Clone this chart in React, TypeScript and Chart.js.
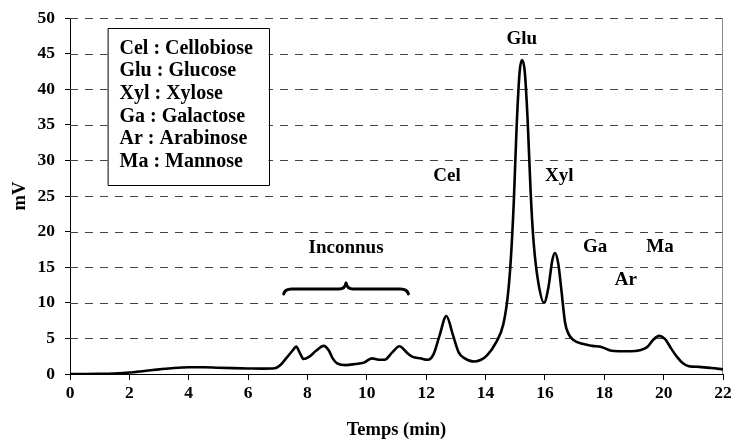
import React, { useEffect, useRef } from "react";
import { Chart, registerables } from "chart.js";

Chart.register(...registerables);

// Chromatogram: retention time (min) and detector signal (mV)
const timeMin: number[] = [
  0, 0.5, 1.0, 1.5, 2.0, 2.5, 3.0, 3.5, 4.0, 4.5, 5.0, 5.5, 6.0, 6.5, 6.9,
  7.1, 7.3, 7.5, 7.62, 7.75, 7.87, 8.05, 8.3, 8.55, 8.72, 8.85, 9.0, 9.3, 9.6,
  9.9, 10.17, 10.4, 10.6, 10.85, 11.1, 11.35, 11.55, 11.8, 12.05, 12.25, 12.45,
  12.68, 12.9, 13.1, 13.3, 13.6, 13.85, 14.05, 14.35, 14.6, 14.75, 14.85, 14.95,
  15.05, 15.15, 15.23, 15.32, 15.42, 15.52, 15.62, 15.78, 15.97, 16.12, 16.25,
  16.34, 16.45, 16.55, 16.68, 16.8, 16.95, 17.3, 17.6, 17.9, 18.2, 18.5, 18.9,
  19.2, 19.45, 19.65, 19.85, 20.05, 20.25, 20.45, 20.65, 20.85, 21.2, 21.6, 22.0,
];
const signalMv: number[] = [
  0, 0, 0.02, 0.08, 0.2, 0.42, 0.65, 0.85, 0.95, 0.95, 0.88, 0.82, 0.78, 0.75, 0.8,
  1.3, 2.3, 3.3, 3.85, 2.9, 2.1, 2.4, 3.3, 3.95, 3.3, 2.2, 1.5, 1.25, 1.4,
  1.6, 2.2, 2.0, 2.0, 3.0, 3.9, 3.0, 2.4, 2.2, 2.0, 2.8, 5.4,
  8.15, 5.5, 3.0, 2.2, 1.75, 2.0, 2.6, 4.4, 7.0, 11.0, 16.0, 24.0,
  35.0, 42.5, 44.1, 42.5, 35.5, 25.5, 18.5, 12.8, 10.0, 12.2, 16.0,
  17.0, 15.5, 12.0, 7.2, 5.6, 4.8, 4.2, 3.95, 3.8, 3.3, 3.2, 3.2,
  3.35, 3.8, 4.8, 5.35, 4.9, 3.6, 2.4, 1.5, 1.1, 1.0, 0.85, 0.65,
];

// Peak labels (text, time, mV)
const peakLabels: string[] = ["Glu", "Cel", "Xyl", "Ga", "Ma", "Ar", "Inconnus"];
const peakLabelTime: number[] = [15.22, 12.7, 16.48, 17.69, 19.88, 18.73, 9.3];
const peakLabelMv: number[] = [47.1, 27.85, 27.85, 17.86, 17.86, 13.22, 17.72];

// Brace over unknown peaks (time range, mV level)
const braceStart = 7.2;
const braceEnd = 11.4;
const braceMid = 9.3;
const braceLevel = 11.95;

// Legend lines
const legendLines: string[] = [
  "Cel : Cellobiose",
  "Glu : Glucose",
  "Xyl : Xylose",
  "Ga : Galactose",
  "Ar : Arabinose",
  "Ma : Mannose",
];

const xTitle = "Temps (min)";
const yTitle = "mV";

const FONT = "'Liberation Serif', 'Times New Roman', serif";

export default function App() {
  const canvasRef = useRef<HTMLCanvasElement | null>(null);

  useEffect(() => {
    const canvas = canvasRef.current;
    if (!canvas) return;

    const decor = {
      id: "decor",
      beforeDraw(chart: any) {
        const ctx = chart.ctx;
        ctx.save();
        ctx.fillStyle = "#ffffff";
        ctx.fillRect(0, 0, chart.width, chart.height);
        ctx.restore();
      },
      beforeDatasetsDraw(chart: any) {
        const ctx = chart.ctx;
        const { left, right, top, bottom } = chart.chartArea;
        const ys = chart.scales.y;
        ctx.save();
        ctx.strokeStyle = "#444";
        ctx.lineWidth = 1;
        ctx.setLineDash([8, 7]);
        ys.ticks.forEach((t: any) => {
          if (t.value === 0) return;
          const y = Math.round(ys.getPixelForValue(t.value)) + 0.5;
          ctx.beginPath();
          ctx.moveTo(left, y);
          ctx.lineTo(right, y);
          ctx.stroke();
        });
        ctx.setLineDash([]);
        ctx.strokeStyle = "#8a8a8a";
        ctx.beginPath();
        ctx.moveTo(Math.round(right) - 0.5, top);
        ctx.lineTo(Math.round(right) - 0.5, bottom);
        ctx.stroke();
        ctx.restore();
      },
      afterDatasetsDraw(chart: any) {
        const ctx = chart.ctx;
        const xs = chart.scales.x;
        const ys = chart.scales.y;
        const { left, top } = chart.chartArea;
        ctx.save();
        // peak labels
        ctx.fillStyle = "#000";
        ctx.font = `bold 19px ${FONT}`;
        ctx.textAlign = "center";
        ctx.textBaseline = "middle";
        peakLabels.forEach((lab, i) => {
          ctx.fillText(lab, xs.getPixelForValue(peakLabelTime[i]), ys.getPixelForValue(peakLabelMv[i]));
        });
        // brace
        const x0 = xs.getPixelForValue(braceStart);
        const x1 = xs.getPixelForValue(braceEnd);
        const xm = xs.getPixelForValue(braceMid);
        const yb = ys.getPixelForValue(braceLevel);
        ctx.strokeStyle = "#000";
        ctx.lineWidth = 3;
        ctx.lineCap = "round";
        ctx.lineJoin = "round";
        ctx.beginPath();
        ctx.moveTo(x0, yb + 5);
        ctx.quadraticCurveTo(x0 + 1, yb, x0 + 8, yb);
        ctx.lineTo(xm - 7, yb);
        ctx.quadraticCurveTo(xm - 1, yb, xm, yb - 6);
        ctx.quadraticCurveTo(xm + 1, yb, xm + 7, yb);
        ctx.lineTo(x1 - 8, yb);
        ctx.quadraticCurveTo(x1 - 1, yb, x1, yb + 5);
        ctx.stroke();
        // legend box
        const bx = left + 37.5;
        const by = top + 10;
        const bw = 161;
        const bh = 157;
        ctx.fillStyle = "#fff";
        ctx.fillRect(bx, by, bw, bh);
        ctx.lineWidth = 1;
        ctx.strokeStyle = "#000";
        ctx.strokeRect(Math.round(bx) + 0.5, Math.round(by) + 0.5, bw, bh);
        ctx.fillStyle = "#000";
        ctx.font = `bold 20px ${FONT}`;
        ctx.textAlign = "left";
        ctx.textBaseline = "alphabetic";
        legendLines.forEach((ln, i) => {
          ctx.fillText(ln, bx + 12, by + 25.5 + i * 22.7);
        });
        ctx.restore();
      },
    };

    const chart = new Chart(canvas, {
      type: "line",
      data: {
        datasets: [
          {
            data: timeMin.map((t, i) => ({ x: t, y: signalMv[i] })),
            borderColor: "#000",
            borderWidth: 2.6,
            pointRadius: 0,
            cubicInterpolationMode: "monotone",
            fill: false,
          },
        ],
      },
      options: {
        responsive: false,
        animation: false,
        layout: { padding: { left: 0, top: 18, right: 10, bottom: 0 } },
        plugins: {
          legend: { display: false },
          tooltip: { enabled: false },
        },
        scales: {
          x: {
            type: "linear",
            min: 0,
            max: 22,
            ticks: {
              stepSize: 2,
              color: "#000",
              font: { family: FONT, size: 17.5, weight: "bold" },
              padding: 3,
              maxRotation: 0,
            },
            grid: {
              drawOnChartArea: false,
              drawTicks: true,
              tickLength: 6,
              color: "#000",
              tickColor: "#000",
            },
            border: { display: true, color: "#000", width: 1 },
            title: {
              display: true,
              text: xTitle,
              color: "#000",
              font: { family: FONT, size: 18.5, weight: "bold" },
              padding: { top: 2, bottom: 2 },
            },
            afterFit: (scale: any) => {
              scale.height = 69;
              scale.paddingLeft = 0;
              scale.paddingRight = 0;
            },
          },
          y: {
            type: "linear",
            min: 0,
            max: 50,
            ticks: {
              stepSize: 5,
              color: "#000",
              font: { family: FONT, size: 17.5, weight: "bold" },
              padding: 10,
            },
            grid: {
              drawOnChartArea: false,
              drawTicks: true,
              tickLength: 5,
              color: "#000",
              tickColor: "#000",
            },
            border: { display: true, color: "#000", width: 1 },
            title: {
              display: true,
              text: yTitle,
              color: "#000",
              font: { family: FONT, size: 18.5, weight: "bold" },
              padding: { top: 9, bottom: 9 },
            },
            afterFit: (scale: any) => {
              scale.width = 70;
              scale.paddingTop = 0;
              scale.paddingBottom = 0;
            },
          },
        },
      } as any,
      plugins: [decor],
    });

    return () => {
      chart.destroy();
    };
  }, []);

  return (
    <div style={{ position: "fixed", left: 0, top: 0, width: 733, height: 443, background: "#fff" }}>
      <canvas ref={canvasRef} width={733} height={443} style={{ display: "block" }} />
    </div>
  );
}
